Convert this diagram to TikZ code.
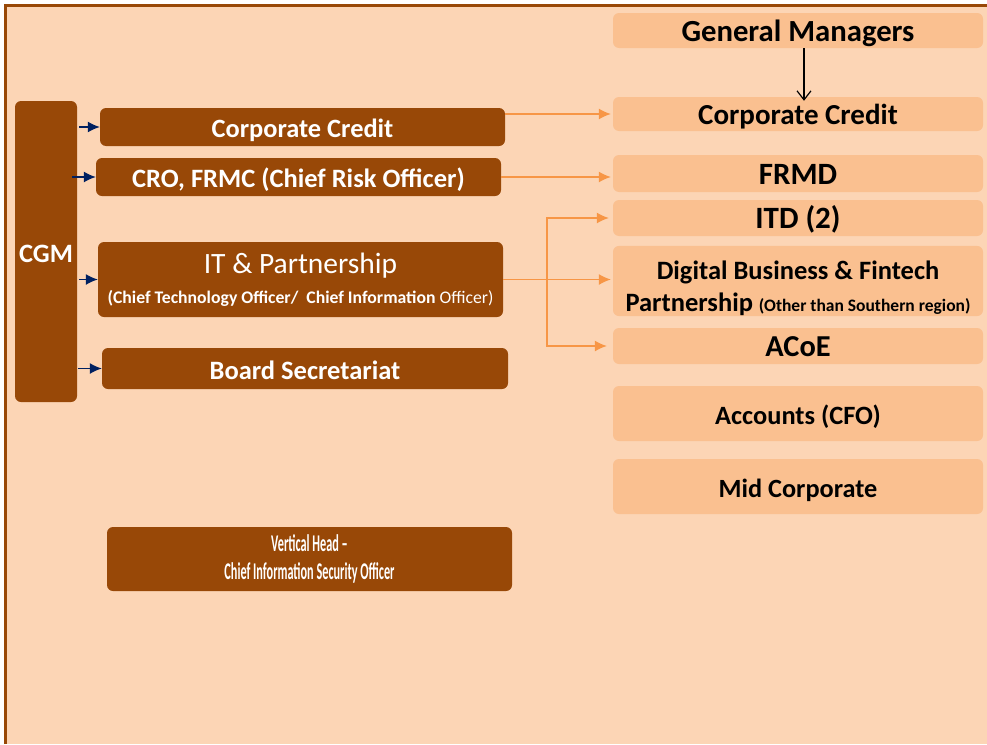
\documentclass[tikz,border=0pt]{standalone}
\usepackage{fontspec}
\setmainfont{Carlito}
\newfontfamily\narrowfont[FakeStretch=0.51]{Carlito}
\usetikzlibrary{arrows.meta,positioning}
\definecolor{pagepeach}{HTML}{FCD5B5}
\definecolor{framebrown}{HTML}{984807}
\definecolor{boxtan}{HTML}{FAC090}
\definecolor{linkorange}{HTML}{F79646}
\definecolor{linknavy}{HTML}{002060}

\begin{document}
\begin{tikzpicture}[x=1pt,y=-1pt,>={Latex[length=12pt,width=11pt]}]
  \tikzstyle{dark}=[fill=framebrown, text=white, rounded corners=6pt, align=center, inner sep=0pt, minimum width=405pt]
  \tikzstyle{light}=[fill=boxtan, text=black, rounded corners=6pt, align=center, inner sep=0pt, minimum width=370pt, font=\bfseries]
  \tikzstyle{oneline}=[text height=22pt, text depth=1pt]
  \useasboundingbox (0,0) rectangle (987,744);
  \fill[pagepeach] (5,5) rectangle (987,744);
  \draw[framebrown, line width=3pt] (5,744) -- (5,5) -- (987,5);

  % left column
  \node (0) [dark, oneline, minimum width=62pt, minimum height=301pt, font=\bfseries\fontsize{26.5}{28}\selectfont] at (46,251.5) {CGM};
  \node (1) [dark, oneline, minimum height=38pt, font=\bfseries\fontsize{26.4}{28}\selectfont] at (302.5,127) {Corporate Credit};
  \node (2) [dark, oneline, minimum height=38pt, font=\bfseries\fontsize{26.5}{28}\selectfont] at (298.5,177) {CRO, FRMC (Chief Risk Officer)};
  \node (3) [dark, minimum height=75pt] at (300.5,279.5) {{\fontsize{29.5}{31}\selectfont IT \& Partnership}\\[11pt]
    {\fontsize{17.7}{19}\selectfont\bfseries (Chief Technology Officer/\ \ Chief Information \mdseries Officer)}};
  \node (4) [dark, oneline, minimum width=406pt, minimum height=41pt, font=\bfseries\fontsize{26.5}{28}\selectfont] at (305,368.5) {Board Secretariat};
  \node (5) [dark, minimum height=64pt, font=\narrowfont\bfseries\fontsize{24}{28}\selectfont] at (309.5,559) {Vertical Head –\\Chief Information Security Officer};

  % right column
  \node (6) [light, oneline, minimum height=35pt, font=\bfseries\fontsize{30.7}{32}\selectfont] at (798,30.5) {General Managers};
  \node (7) [light, oneline, minimum height=34pt, font=\bfseries\fontsize{29}{31}\selectfont] at (798,114) {Corporate Credit};
  \node (8) [light, oneline, minimum height=37pt, font=\bfseries\fontsize{31}{33}\selectfont] at (798,173.5) {FRMD};
  \node (9) [light, oneline, minimum height=36pt, font=\bfseries\fontsize{31}{33}\selectfont] at (798,218) {ITD (2)};
  \node (10) [light, minimum height=62pt, font=\bfseries\fontsize{26.5}{32}\selectfont] at (798,281) {\rule{0pt}{34pt}Digital Business \& Fintech\\Partnership {\fontsize{17.5}{19}\selectfont(Other than Southern region)}};
  \node (11) [light, oneline, minimum height=36pt, font=\bfseries\fontsize{30.4}{32}\selectfont] at (798,346) {ACoE};
  \node (12) [light, oneline, minimum height=55pt, font=\bfseries\fontsize{26.4}{28}\selectfont] at (798,413.5) {Accounts (CFO)};
  \node (13) [light, oneline, minimum height=55pt, font=\bfseries\fontsize{26.3}{28}\selectfont] at (798,486.5) {Mid Corporate};

  \coordinate (14) at (547,279);

  \path[every edge/.style={draw=linknavy, line width=1.3pt, ->}]
  ([xshift=2pt]0.east |- 1.west) edge (1.west)
  ([xshift=-5pt]0.east |- 2.west) edge (2.west)
  ([xshift=2pt]0.east |- 3.west) edge (3.west)
  ([xshift=1pt]0.east |- 4.west) edge (4.west)
  ;
  \path[every edge/.style={draw=linkorange, line width=1.3pt, ->, shorten >=2pt}]
  (1.east |- 7.west) edge (7.west)
  (2.east) edge (2.east -| 8.west)
  (3.east) edge (3.east -| 10.west)
  ;
  \draw[<->, linkorange, line width=1.3pt, shorten <=4pt, shorten >=6pt] (9.west) -| (14) |- (11.west);
  \draw[-{Straight Barb[length=9pt,width=14pt]}, line width=1.2pt, shorten >=-4pt] ([xshift=6pt]6.south) -- ([xshift=6pt]6.south |- 7.north);
\end{tikzpicture}
\end{document}
